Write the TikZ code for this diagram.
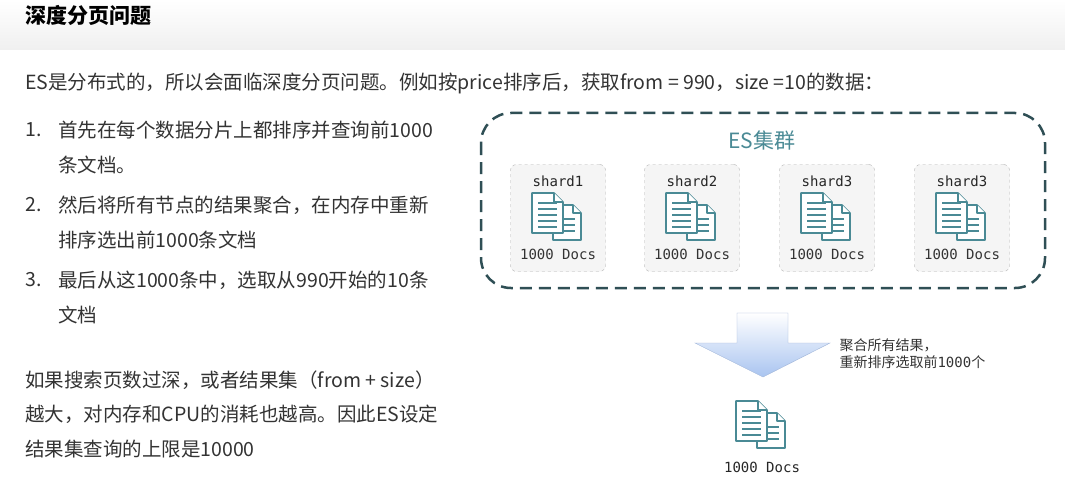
\documentclass[tikz,border=0pt]{standalone}
\usepackage{fontspec}
\setmainfont{Noto Sans CJK SC}
\setmonofont{DejaVu Sans Mono}
\usetikzlibrary{shadings}
\definecolor{teal1}{HTML}{4A8A95}
\definecolor{dark1}{HTML}{2F4F55}
\definecolor{txt}{HTML}{333333}
\definecolor{blue1}{HTML}{A9C4F0}
\tikzset{
  page/.style={draw=teal1, line width=1.6pt, fill=white, line join=round},
  shard box/.style={draw=gray!60, dashed, fill=gray!8, rounded corners=6pt, minimum width=95pt, minimum height=107pt},
  body/.style={anchor=west, text=txt, font=\fontsize{19.5}{21}\selectfont, inner sep=0pt},
  mono/.style={font=\ttfamily\fontsize{14}{16}\selectfont, text=gray!30!black},
  docs/.pic={
    \draw[page] (-5,-10) -- (15,-10) -- (23,-2) -- (23,25) -- (-5,25) -- cycle;
    \draw[page] (15,-10) -- (15,-2) -- (23,-2);
    \foreach \y in {4,10,16} \draw[teal1, line width=1.4pt] (2,\y) -- (17,\y);
    \draw[page] (-26,-22) -- (-4,-22) -- (5,-13) -- (5,18) -- (-26,18) -- cycle;
    \draw[page] (-4,-22) -- (-4,-13) -- (5,-13);
    \foreach \y in {-12,-6,0,6,12} \draw[teal1, line width=1.4pt] (-20,\y) -- (-1,\y);
    \draw[teal1, line width=1.4pt] (-20,-12) -- (-9,-12);
  }
}
\begin{document}
\begin{tikzpicture}[x=1pt, y=-1pt]
\useasboundingbox (0,0) rectangle (1065,500);
\fill[white] (0,0) rectangle (1065,500);
\shade[top color=white, bottom color=gray!12] (0,0) rectangle (1065,50);
\node[body, font=\bfseries\fontsize{21}{23}\selectfont, text=black] (title) at (25,15) {深度分页问题};
\node[body] (intro) at (25,83) {ES是分布式的，所以会面临深度分页问题。例如按price排序后，获取from = 990，size =10的数据：};
% list
\node[body] (n1) at (25,130) {1.};
\node[body] (l1a) at (58,130) {首先在每个数据分片上都排序并查询前1000};
\node[body] (l1b) at (58,165) {条文档。};
\node[body] (n2) at (25,205) {2.};
\node[body] (l2a) at (58,205) {然后将所有节点的结果聚合，在内存中重新};
\node[body] (l2b) at (58,240) {排序选出前1000条文档};
\node[body] (n3) at (25,280) {3.};
\node[body] (l3a) at (58,280) {最后从这1000条中，选取从990开始的10条};
\node[body] (l3b) at (58,315) {文档};
\node[body] (p1) at (25,380) {如果搜索页数过深，或者结果集（from + size）};
\node[body] (p2) at (25,414) {越大，对内存和CPU的消耗也越高。因此ES设定};
\node[body] (p3) at (25,449) {结果集查询的上限是10000};
% cluster
\draw[dark1, line width=2.5pt, dash pattern=on 12pt off 7pt, rounded corners=30pt] (481,113) rectangle (1045,288);
\node[text=teal1, font=\fontsize{21}{23}\selectfont] (es) at (762,140) {ES集群};
\foreach \x/\n [count=\i] in {558/shard1, 692/shard2, 827/shard3, 962/shard3} {
  \node[shard box] (s\i) at (\x,218) {};
  \node[mono] at (\x,181) {\n};
  \pic at (\x,215) {docs};
  \node[mono, text=gray!40!black] at (\x,254) {1000 Docs};
}
% arrow
\shade[top color=white, bottom color=blue1, draw=blue1!80!gray]
  (737,313) -- (788,313) -- (788,343) -- (830,343) -- (763,377) -- (695,343) -- (737,343) -- cycle;
\node[anchor=west, align=left, font=\fontsize{14}{17}\selectfont, text=txt] (note) at (836,354)
  {聚合所有结果，\\重新排序选取前{\ttfamily 1000}个};
\pic at (762,423) {docs};
\node[mono] (res) at (762,467) {1000 Docs};
\end{tikzpicture}
\end{document}
